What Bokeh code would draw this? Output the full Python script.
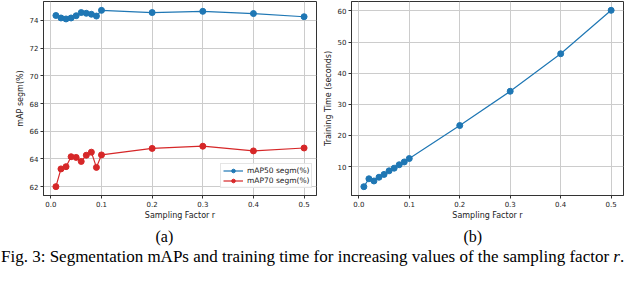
from bokeh.plotting import figure
from bokeh.models import FixedTicker, NumeralTickFormatter, Range1d, Title, Div
from bokeh.layouts import row, column
from bokeh.embed import file_html
from bokeh.resources import INLINE

# ---- data ----
r_values = [0.01, 0.02, 0.03, 0.04, 0.05, 0.06, 0.07, 0.08, 0.09, 0.10, 0.2, 0.3, 0.4, 0.5]
map50_segm = [74.36, 74.18, 74.11, 74.18, 74.34, 74.57, 74.52, 74.45, 74.32, 74.73, 74.57, 74.66, 74.50, 74.27]
map70_segm = [62.00, 63.28, 63.44, 64.16, 64.11, 63.82, 64.27, 64.49, 63.39, 64.29, 64.76, 64.92, 64.58, 64.79]
training_time = [3.56, 6.1, 5.4, 6.6, 7.5, 8.65, 9.5, 10.6, 11.5, 12.6, 23.2, 34.2, 46.25, 60.2]
x_ticks = [0.0, 0.1, 0.2, 0.3, 0.4, 0.5]
map_ticks = [62, 64, 66, 68, 70, 72, 74]
time_ticks = [10, 20, 30, 40, 50, 60]
series_labels = ["mAP50 segm(%)", "mAP70 segm(%)"]
x_label = "Sampling Factor r"
captions = ["(a)", "(b)"]
fig_caption = "Fig. 3: Segmentation mAPs and training time for increasing values of the sampling factor <i>r</i>."

BLUE = "#1f77b4"
RED = "#d62728"
FONT = "DejaVu Sans"


def style(p, yticks, ylabel, sub):
    p.xaxis.ticker = FixedTicker(ticks=x_ticks)
    p.yaxis.ticker = FixedTicker(ticks=yticks)
    p.xaxis.formatter = NumeralTickFormatter(format="0.0")
    p.xaxis.axis_label = x_label
    p.yaxis.axis_label = ylabel
    for ax in (p.xaxis, p.yaxis):
        ax.axis_label_text_font = FONT
        ax.axis_label_text_font_size = "8px"
        ax.axis_label_text_font_style = "normal"
        ax.axis_label_text_color = "#222222"
        ax.major_label_text_font = FONT
        ax.major_label_text_font_size = "7px"
        ax.major_label_text_color = "#222222"
        ax.major_tick_in = 0
        ax.major_tick_out = 3
        ax.minor_tick_in = 0
        ax.minor_tick_out = 0
        ax.major_tick_line_color = "#333333"
        ax.axis_line_color = "#333333"
    p.xaxis.major_label_standoff = 2
    p.xaxis.axis_label_standoff = 1
    p.yaxis.major_label_standoff = 2
    p.yaxis.axis_label_standoff = 2
    p.grid.grid_line_color = "#cccccc"
    p.grid.grid_line_width = 1
    p.outline_line_color = "#333333"
    p.outline_line_width = 1
    p.background_fill_color = "white"
    p.border_fill_color = "white"
    t = Title(text=sub, align="left", offset=112, text_font="Liberation Serif",
              text_font_size="16px", text_font_style="normal", text_color="black", standoff=6)
    p.add_layout(t, "below")


xr = (-0.0145, 0.5245)

p1 = figure(width=318, height=247, output_backend="svg", toolbar_location=None,
            x_range=Range1d(*xr), y_range=Range1d(61.36, 75.37),
            min_border_top=1, min_border_bottom=50, min_border_left=43, min_border_right=2)
style(p1, map_ticks, "mAP segm(%)", captions[0])
p1.line(r_values, map50_segm, line_color=BLUE, line_width=1.2, legend_label=series_labels[0])
p1.scatter(r_values, map50_segm, size=6, fill_color=BLUE, line_color=BLUE, legend_label=series_labels[0])
p1.line(r_values, map70_segm, line_color=RED, line_width=1.2, legend_label=series_labels[1])
p1.scatter(r_values, map70_segm, size=6, fill_color=RED, line_color=RED, legend_label=series_labels[1])
lg = p1.legend[0]
lg.location = (177, 7)
lg.label_text_font = FONT
lg.label_text_font_size = "7.5px"
lg.label_text_color = "#222222"
lg.glyph_width = 20
lg.glyph_height = 9
lg.label_height = 9
lg.spacing = 1
lg.padding = 2
lg.margin = 0
lg.label_standoff = 4
lg.border_line_color = "#cccccc"
lg.background_fill_alpha = 0.85

p2 = figure(width=306, height=247, output_backend="svg", toolbar_location=None,
            x_range=Range1d(*xr), y_range=Range1d(0.73, 63.03),
            min_border_top=1, min_border_bottom=50, min_border_left=33, min_border_right=1)
style(p2, time_ticks, "Training Time (seconds)", captions[1])
p2.line(r_values, training_time, line_color=BLUE, line_width=1.2)
p2.scatter(r_values, training_time, size=6, fill_color=BLUE, line_color=BLUE)

cap = Div(text=fig_caption, width=624, height=20,
          styles={"font-family": "Liberation Serif", "font-size": "17px", "line-height": "20px",
                  "color": "black", "white-space": "nowrap", "margin": "0",
                  "padding": "0 0 0 1px"})

layout = column(row(p1, p2), cap)
open("out.html", "w").write(file_html(layout, INLINE))
